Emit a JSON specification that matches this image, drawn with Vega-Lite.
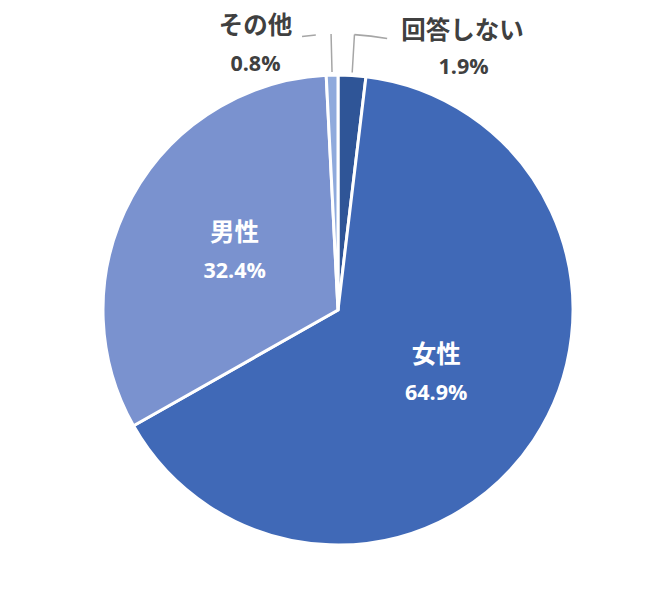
{
  "$schema": "https://vega.github.io/schema/vega-lite/v6.json",
  "width": 470,
  "height": 470,
  "autosize": "none",
  "padding": {"left": 103, "top": 75, "right": 89, "bottom": 52},
  "background": "white",
  "view": {"stroke": null},
  "data": {"values": [
    {"label": "回答しない", "value": 0.019, "rank": 1},
    {"label": "女性", "value": 0.649, "rank": 2},
    {"label": "男性", "value": 0.324, "rank": 3},
    {"label": "その他", "value": 0.008, "rank": 4}
  ]},
  "encoding": {
    "theta": {"field": "value", "type": "quantitative", "stack": true},
    "order": {"field": "rank", "type": "quantitative"},
    "detail": {"field": "label", "type": "nominal"}
  },
  "layer": [
    {
      "mark": {"type": "arc", "radius": 235, "stroke": "white", "strokeWidth": 3},
      "encoding": {
        "color": {"field": "label", "type": "nominal", "legend": null,
          "scale": {"domain": ["回答しない", "女性", "男性", "その他"], "range": ["#2F5597", "#4069B7", "#7A92CF", "#8FAADC"]}}
      }
    },
    {
      "mark": {"type": "arc", "radius": 238, "radius2": 276, "padAngle": 1.5, "filled": false, "color": "#A6A6A6", "strokeWidth": 1.5},
      "encoding": {
        "opacity": {"condition": {"test": "datum.label === 'その他' || datum.label === '回答しない'", "value": 1}, "value": 0}
      }
    },
    {
      "mark": {"type": "arc", "radius": 275.1, "radius2": 276.7, "thetaOffset": 0.0597, "theta2Offset": -0.0215, "color": "#A6A6A6"},
      "encoding": {
        "opacity": {"condition": {"test": "datum.label === '回答しない'", "value": 1}, "value": 0}
      }
    },
    {
      "mark": {"type": "arc", "radius": 275.1, "radius2": 276.7, "thetaOffset": -0.0805, "theta2Offset": -0.0251, "color": "#A6A6A6"},
      "encoding": {
        "opacity": {"condition": {"test": "datum.label === 'その他'", "value": 1}, "value": 0}
      }
    },
    {
      "mark": {"type": "text", "radius": 118, "dy": -19, "fontSize": 24.5, "fontWeight": "bold", "color": "white", "font": "Open Sans, Noto Sans CJK JP", "baseline": "middle"},
      "encoding": {
        "text": {"condition": {"test": "datum.label === '女性' || datum.label === '男性'", "field": "label", "type": "nominal"}, "value": ""}
      }
    },
    {
      "mark": {"type": "text", "radius": 118, "dy": 19, "fontSize": 21.5, "fontWeight": "bold", "color": "white", "font": "Open Sans, Noto Sans CJK JP", "baseline": "middle"},
      "encoding": {
        "text": {"condition": {"test": "datum.label === '女性' || datum.label === '男性'", "field": "value", "type": "quantitative", "format": ".1%"}, "value": ""}
      }
    },
    {
      "mark": {"type": "text", "radius": 260, "dx": 109, "dy": -18, "fontSize": 24.5, "fontWeight": "bold", "color": "#404040", "font": "Open Sans, Noto Sans CJK JP", "baseline": "middle"},
      "encoding": {
        "text": {"condition": {"test": "datum.label === '回答しない'", "field": "label", "type": "nominal"}, "value": ""}
      }
    },
    {
      "mark": {"type": "text", "radius": 260, "dx": 110, "dy": 18, "fontSize": 21.5, "fontWeight": "bold", "color": "#404040", "font": "Open Sans, Noto Sans CJK JP", "baseline": "middle"},
      "encoding": {
        "text": {"condition": {"test": "datum.label === '回答しない'", "field": "value", "type": "quantitative", "format": ".1%"}, "value": ""}
      }
    },
    {
      "mark": {"type": "text", "radius": 260, "dx": -76, "dy": -23, "fontSize": 24.5, "fontWeight": "bold", "color": "#404040", "font": "Open Sans, Noto Sans CJK JP", "baseline": "middle"},
      "encoding": {
        "text": {"condition": {"test": "datum.label === 'その他'", "field": "label", "type": "nominal"}, "value": ""}
      }
    },
    {
      "mark": {"type": "text", "radius": 260, "dx": -76, "dy": 15, "fontSize": 21.5, "fontWeight": "bold", "color": "#404040", "font": "Open Sans, Noto Sans CJK JP", "baseline": "middle"},
      "encoding": {
        "text": {"condition": {"test": "datum.label === 'その他'", "field": "value", "type": "quantitative", "format": ".1%"}, "value": ""}
      }
    }
  ]
}
